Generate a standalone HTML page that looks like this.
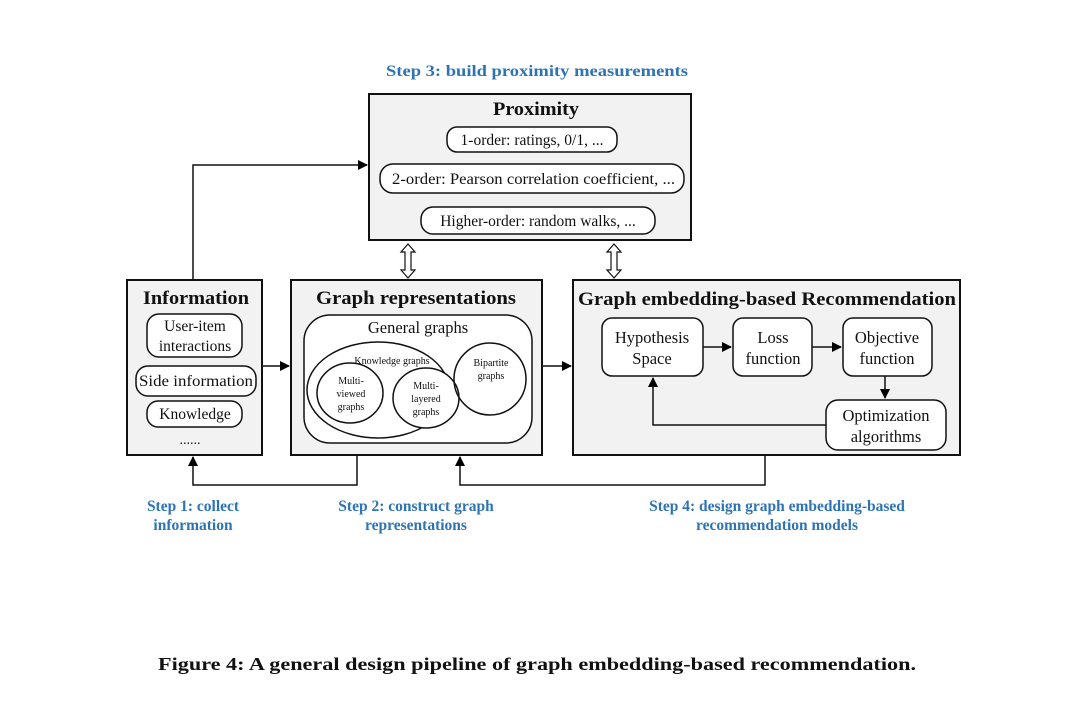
<!DOCTYPE html>
<html><head><meta charset="utf-8"><style>
html,body{margin:0;padding:0;background:#fff;}
svg{display:block;}
text{font-family:"Liberation Serif",serif;fill:#111;}
.b{font-weight:bold;}
.blue{fill:#2e74b5;font-weight:bold;font-size:15.5px;}
</style></head><body>
<svg width="1080" height="715" viewBox="0 0 1080 715" xmlns="http://www.w3.org/2000/svg">
<defs>
<marker id="a" markerWidth="10" markerHeight="10" refX="9" refY="5" orient="auto" markerUnits="userSpaceOnUse">
<path d="M0,0 L10,5 L0,10 z" fill="#000"/></marker>
</defs>
<g stroke="#111" stroke-width="2" fill="#f2f2f2">
<rect x="369" y="94" width="322" height="146"/>
<rect x="127" y="280" width="135" height="175"/>
<rect x="291" y="280" width="251" height="175"/>
<rect x="573" y="280" width="387" height="175"/>
</g>
<g stroke="#111" stroke-width="1.5" fill="#fff">
<rect x="447" y="127" width="170" height="25" rx="10"/>
<rect x="380" y="164" width="304" height="29" rx="13"/>
<rect x="421" y="207" width="234" height="27" rx="12"/>
<rect x="147" y="314" width="95" height="43" rx="12"/>
<rect x="136" y="366" width="120" height="30" rx="12"/>
<rect x="147" y="401" width="95" height="26" rx="11"/>
<rect x="304" y="315" width="228" height="128" rx="26"/>
<ellipse cx="378" cy="390" rx="71" ry="48"/>
<ellipse cx="350" cy="393" rx="33" ry="30"/>
<ellipse cx="426" cy="398" rx="33" ry="30"/>
<circle cx="490" cy="379" r="36" fill="none"/>
<rect x="602" y="318" width="101" height="58" rx="10"/>
<rect x="733" y="318" width="79" height="58" rx="10"/>
<rect x="843" y="318" width="89" height="58" rx="10"/>
<rect x="826" y="400" width="120" height="50" rx="12"/>
</g>
<g stroke="#111" stroke-width="1.5" fill="none">
<path d="M193,280 V165 H367" marker-end="url(#a)"/>
<path d="M262,366 H289" marker-end="url(#a)"/>
<path d="M542,366 H571" marker-end="url(#a)"/>
<path d="M703,347 H731" marker-end="url(#a)"/>
<path d="M812,347 H841" marker-end="url(#a)"/>
<path d="M885,376 V398" marker-end="url(#a)"/>
<path d="M826,425 H653 V378" marker-end="url(#a)"/>
<path d="M357,455 V485 H193 V457" marker-end="url(#a)"/>
<path d="M765,455 V485 H460 V457" marker-end="url(#a)"/>
<path d="M405,252 V270 H401 L408,278 L415,270 H411 V252 H415 L408,244 L401,252 Z" stroke-width="1.2"/>
<path d="M611,252 V270 H607 L614,278 L621,270 H617 V252 H621 L614,244 L607,252 Z" stroke-width="1.2"/>
</g>
<text x="386" y="76" class="blue" textLength="302" lengthAdjust="spacingAndGlyphs">Step 3: build proximity measurements</text>
<text x="493" y="115" class="b" font-size="19" textLength="86" lengthAdjust="spacingAndGlyphs">Proximity</text>
<text x="532" y="145" text-anchor="middle" font-size="15.5">1-order: ratings, 0/1, ...</text>
<text x="392" y="184" font-size="15.5" textLength="283" lengthAdjust="spacingAndGlyphs">2-order: Pearson correlation coefficient, ...</text>
<text x="538" y="226" text-anchor="middle" font-size="15.5">Higher-order: random walks, ...</text>
<text x="143" y="304" class="b" font-size="19" textLength="106" lengthAdjust="spacingAndGlyphs">Information</text>
<text x="195" y="331" text-anchor="middle" font-size="15.5">User-item</text>
<text x="195" y="351" text-anchor="middle" font-size="15.5">interactions</text>
<text x="196" y="386" text-anchor="middle" font-size="15.5" textLength="114" lengthAdjust="spacingAndGlyphs">Side information</text>
<text x="195" y="419" text-anchor="middle" font-size="15.5">Knowledge</text>
<text x="190" y="444" text-anchor="middle" font-size="14">......</text>
<text x="316" y="304" class="b" font-size="19" textLength="200" lengthAdjust="spacingAndGlyphs">Graph representations</text>
<text x="418" y="333" text-anchor="middle" font-size="16.5">General graphs</text>
<text x="392" y="364" text-anchor="middle" font-size="10">Knowledge graphs</text>
<text x="351" y="384" text-anchor="middle" font-size="10">Multi-</text>
<text x="351" y="397" text-anchor="middle" font-size="10">viewed</text>
<text x="351" y="410" text-anchor="middle" font-size="10">graphs</text>
<text x="426" y="389" text-anchor="middle" font-size="10">Multi-</text>
<text x="426" y="402" text-anchor="middle" font-size="10">layered</text>
<text x="426" y="415" text-anchor="middle" font-size="10">graphs</text>
<text x="491" y="366" text-anchor="middle" font-size="10">Bipartite</text>
<text x="491" y="379" text-anchor="middle" font-size="10">graphs</text>
<text x="578" y="305" class="b" font-size="19" textLength="378" lengthAdjust="spacingAndGlyphs">Graph embedding-based Recommendation</text>
<text x="652" y="343" text-anchor="middle" font-size="16.5">Hypothesis</text>
<text x="652" y="364" text-anchor="middle" font-size="16.5">Space</text>
<text x="773" y="343" text-anchor="middle" font-size="16.5">Loss</text>
<text x="773" y="364" text-anchor="middle" font-size="16.5">function</text>
<text x="887" y="343" text-anchor="middle" font-size="16.5">Objective</text>
<text x="887" y="364" text-anchor="middle" font-size="16.5">function</text>
<text x="886" y="421" text-anchor="middle" font-size="16.5">Optimization</text>
<text x="886" y="442" text-anchor="middle" font-size="16.5">algorithms</text>
<text x="193" y="511" text-anchor="middle" class="blue">Step 1: collect</text>
<text x="193" y="530" text-anchor="middle" class="blue">information</text>
<text x="416" y="511" text-anchor="middle" class="blue">Step 2: construct graph</text>
<text x="416" y="530" text-anchor="middle" class="blue">representations</text>
<text x="777" y="511" text-anchor="middle" class="blue">Step 4: design graph embedding-based</text>
<text x="777" y="530" text-anchor="middle" class="blue">recommendation models</text>
<text x="158" y="670" class="b" font-size="17.5" textLength="758" lengthAdjust="spacingAndGlyphs">Figure 4:  A general design pipeline of graph embedding-based recommendation.</text>
</svg>
</body></html>
